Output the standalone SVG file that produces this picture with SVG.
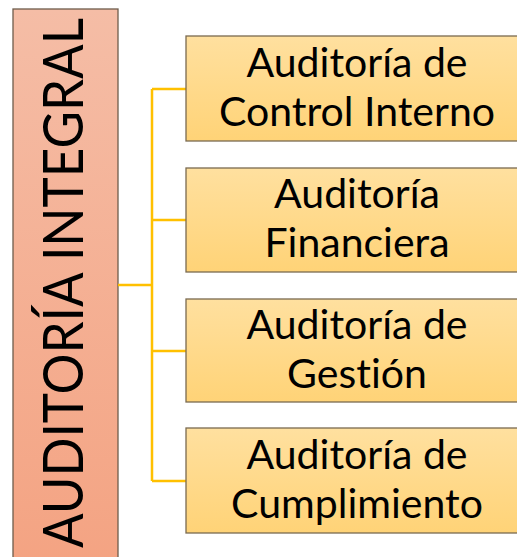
<svg xmlns="http://www.w3.org/2000/svg" width="517" height="557" viewBox="0 0 517 557">
<defs>
<linearGradient id="gL" x1="0" y1="0" x2="0" y2="1"><stop offset="0" stop-color="#F5BDA6"/><stop offset="1" stop-color="#F4A382"/></linearGradient>
<linearGradient id="gB" x1="0" y1="0" x2="0" y2="1"><stop offset="0" stop-color="#FFE09F"/><stop offset="1" stop-color="#FFD377"/></linearGradient>
</defs>
<style>
.box{fill:url(#gB);stroke:#7A6A50;stroke-width:1.3}
.t{font-family:Lato,"Liberation Sans",sans-serif;font-size:41px;fill:#000;text-anchor:middle;font-variant-ligatures:none}
.c{fill:none;stroke:#FFC000;stroke-width:2.5}
</style>
<g id="root">
<rect x="13" y="9" width="105" height="560" fill="url(#gL)" stroke="#6E5C4C" stroke-width="1.3"/>
<text transform="translate(83,283) rotate(-90)" style="font-family:Lato,'Liberation Sans',sans-serif;font-size:56px;text-anchor:middle;font-variant-ligatures:none" textLength="530" lengthAdjust="spacingAndGlyphs">AUDITORÍA INTEGRAL</text>
</g>
<g id="connectors">
<path class="c" d="M118,285 H152 M152,89 V481 M152,89 H186 M152,220 H186 M152,351 H186 M152,481 H186"/>
</g>
<g id="n1"><rect class="box" x="186" y="36" width="345" height="105"/><text class="t" x="357" y="77">Auditoría de</text><text class="t" x="357" y="126">Control Interno</text></g>
<g id="n2"><rect class="box" x="186" y="168" width="345" height="104"/><text class="t" x="357" y="208">Auditoría</text><text class="t" x="357" y="257">Financiera</text></g>
<g id="n3"><rect class="box" x="186" y="299" width="345" height="103"/><text class="t" x="357" y="339">Auditoría de</text><text class="t" x="357" y="388">Gestión</text></g>
<g id="n4"><rect class="box" x="186" y="428" width="345" height="105"/><text class="t" x="357" y="469">Auditoría de</text><text class="t" x="357" y="518">Cumplimiento</text></g>
</svg>
